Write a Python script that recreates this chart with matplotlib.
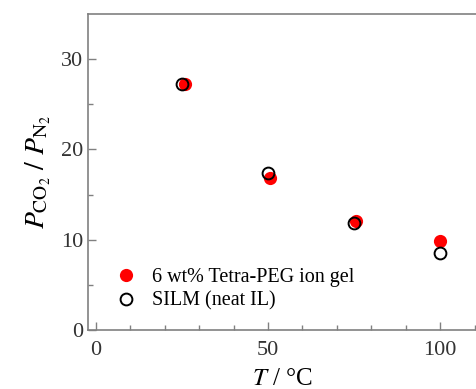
import matplotlib
matplotlib.use("Agg")
import matplotlib.pyplot as plt

plt.rcParams['font.family'] = 'Liberation Serif'
plt.rcParams['mathtext.fontset'] = 'stix'

# selectivity CO2/N2 vs temperature
T_gel = [25.8, 50.7, 75.6, 100]
sel_gel = [27.2, 16.8, 12.05, 9.9]
T_silm = [24.9, 50.0, 75.1, 100]
sel_silm = [27.2, 17.35, 11.9, 8.55]

fig = plt.figure(figsize=(4.77, 3.89), dpi=100)
ax = fig.add_axes([0.1845, 0.1517, 0.8155, 0.8123])

ax.plot(T_gel, sel_gel, 'o', color='red', markersize=9.5, markeredgewidth=0,
        label='6 wt% Tetra-PEG ion gel')
ax.plot(T_silm, sel_silm, 'o', mfc='none', mec='black', markersize=8.5,
        markeredgewidth=1.4, label='SILM (neat IL)')

ax.set_xlim(-2.3, 110.7)
ax.set_ylim(0, 35)
ax.set_xticks([0, 50, 100])
ax.set_xticks(range(0, 111, 10), minor=True)
ax.set_yticks([0, 10, 20, 30])
ax.set_yticks([5, 15, 25], minor=True)
ax.spines['right'].set_visible(False)
for s in ['left', 'top', 'bottom']:
    ax.spines[s].set_color('#808080')
    ax.spines[s].set_linewidth(1.2)
ax.tick_params(which='both', direction='in', color='#808080', labelsize=16,
               labelcolor='#333333')
ax.tick_params(which='major', length=6, width=1)
ax.tick_params(which='minor', length=3.5, width=1)
ax.tick_params(axis='x', pad=8)

ax.set_xlabel(r'$T$ / °C', fontsize=18, labelpad=6)
ax.set_ylabel(r'$P_{\mathrm{CO_2}}\ /\ P_{\mathrm{N_2}}$', fontsize=20, labelpad=6)

ax.legend(loc='lower left', bbox_to_anchor=(0.045, 0.035), frameon=False,
          fontsize=14.5, handletextpad=0.7, borderaxespad=0, labelspacing=0.25,
          handlelength=1.2)

fig.savefig('out.png', dpi=100)
